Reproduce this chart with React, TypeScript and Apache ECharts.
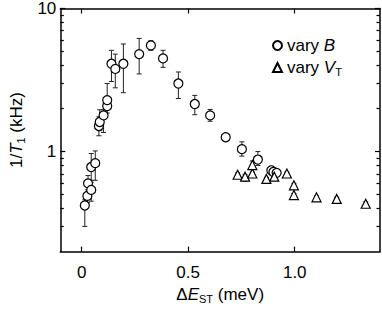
import React, { useEffect, useRef } from 'react';
import * as echarts from 'echarts';

// vary B (circles)
const circleX = [0.015, 0.027, 0.03, 0.045, 0.045, 0.064, 0.081, 0.085, 0.103, 0.12, 0.12, 0.14, 0.158, 0.196, 0.27, 0.325, 0.382, 0.454, 0.531, 0.603, 0.676, 0.752, 0.827, 0.89, 0.9, 0.915];
const circleY = [0.42, 0.49, 0.6, 0.54, 0.78, 0.83, 1.51, 1.61, 1.79, 2.08, 2.29, 4.11, 3.78, 4.11, 4.8, 5.52, 4.48, 2.99, 2.15, 1.79, 1.26, 1.04, 0.88, 0.74, 0.72, 0.71];
const circleLo = [0.3, 0.44, 0.51, 0.45, 0.63, 0.63, 1.29, 1.4, 1.36, 1.86, 2.0, 3.09, 2.79, 2.58, 3.49, 5.1, 3.88, 2.35, 1.81, 1.63, 1.2, 0.93, 0.8, 0.7, 0.68, 0.67];
const circleHi = [0.46, 0.54, 0.68, 0.61, 0.97, 1.01, 1.75, 1.96, 1.96, 2.4, 2.99, 5.1, 4.8, 5.65, 6.18, 5.95, 5.1, 3.6, 2.47, 1.97, 1.32, 1.17, 1.0, 0.79, 0.76, 0.75];

// vary V_T (triangles)
const triX = [0.732, 0.767, 0.801, 0.801, 0.867, 0.904, 0.963, 0.996, 0.996, 1.102, 1.197, 1.333];
const triY = [0.689, 0.668, 0.703, 0.805, 0.644, 0.668, 0.703, 0.581, 0.497, 0.479, 0.467, 0.432];
const triLo = [0.65, 0.62, 0.67, 0.76, 0.61, 0.63, 0.67, 0.55, 0.47, 0.455, 0.445, 0.41];
const triHi = [0.71, 0.69, 0.72, 0.86, 0.66, 0.69, 0.72, 0.6, 0.51, 0.49, 0.48, 0.445];

const xTicks = [0, 0.5, 1.0];
const yMajorTicks = [1, 10];
const yMinorTicks = [0.3, 0.4, 0.5, 0.6, 0.7, 0.8, 0.9, 2, 3, 4, 5, 6, 7, 8, 9];

const FONT = '"Liberation Sans", Arial, sans-serif';
const BLACK = '#000';

const richStyles = {
  n: { fontSize: 17, fontFamily: FONT, color: BLACK },
  i: { fontSize: 17, fontFamily: FONT, color: BLACK, fontStyle: 'italic' },
  s: { fontSize: 11, fontFamily: FONT, color: BLACK, padding: [9, 0, 0, 0] },
};

export default function App() {
  const ref = useRef<HTMLDivElement>(null);
  useEffect(() => {
    if (!ref.current) return;
    const chart = echarts.init(ref.current, null, { renderer: 'svg' });

    const errRender = (params: any, api: any) => {
      const x = api.value(0);
      const lo = api.value(1);
      const hi = api.value(2);
      const pLo = api.coord([x, lo]);
      const pHi = api.coord([x, hi]);
      const w = 2.5;
      const st = { stroke: '#222', lineWidth: 1 };
      return {
        type: 'group',
        children: [
          { type: 'line', shape: { x1: pLo[0], y1: pLo[1], x2: pHi[0], y2: pHi[1] }, style: st },
          { type: 'line', shape: { x1: pLo[0] - w, y1: pLo[1], x2: pLo[0] + w, y2: pLo[1] }, style: st },
          { type: 'line', shape: { x1: pHi[0] - w, y1: pHi[1], x2: pHi[0] + w, y2: pHi[1] }, style: st },
        ],
      };
    };

    const axisLine = { show: true, onZero: false, lineStyle: { color: BLACK, width: 1.5 } };
    const tickStyle = { color: BLACK, width: 1.2 };

    const yBase = { type: 'log', logBase: 10, min: 0.2, max: 10, splitLine: { show: false }, minorTick: { show: false } };

    const option: any = {
      animation: false,
      backgroundColor: '#fff',
      grid: { left: 39, right: 2, top: 5, bottom: 52, containLabel: false },
      legend: {
        data: ['B', 'VT'],
        orient: 'vertical',
        left: 267,
        top: 32,
        itemWidth: 9,
        itemHeight: 9,
        itemGap: 5,
        formatter: (name: string) => (name === 'B' ? '{n|vary }{i|B}' : '{n|vary }{i|V}{s|T}'),
        textStyle: { color: BLACK, fontSize: 17, fontFamily: FONT, rich: richStyles },
      },
      xAxis: [
        {
          type: 'value', min: -0.1, max: 1.4, position: 'bottom',
          axisLine,
          axisTick: { show: true, inside: true, length: 5, customValues: xTicks, lineStyle: tickStyle },
          axisLabel: { customValues: xTicks, formatter: (v: number) => (v === 0 ? '0' : v.toFixed(1)), color: BLACK, fontSize: 17, fontFamily: FONT, margin: 12 },
          splitLine: { show: false },
          name: '{n|Δ}{i|E}{s|ST}{n| (meV)}',
          nameLocation: 'middle',
          nameGap: 27,
          nameTextStyle: { color: BLACK, fontSize: 17, fontFamily: FONT, rich: richStyles },
        },
        {
          type: 'value', min: -0.1, max: 1.4, position: 'top',
          axisLine,
          axisTick: { show: true, inside: true, length: 5, customValues: xTicks, lineStyle: tickStyle },
          axisLabel: { show: false },
          splitLine: { show: false },
        },
      ],
      yAxis: [
        {
          ...yBase, position: 'left',
          axisLine,
          axisTick: { show: true, inside: true, length: 5, customValues: yMajorTicks, lineStyle: tickStyle },
          axisLabel: { customValues: yMajorTicks, formatter: (v: number) => String(Math.round(v)), color: BLACK, fontSize: 17, fontFamily: FONT, margin: 4, padding: [5, 0, 0, 0] },
          name: '{n|1/}{i|T}{s|1}{n| (kHz)}',
          nameLocation: 'middle',
          nameGap: 21,
          nameRotate: 90,
          nameTextStyle: { color: BLACK, fontSize: 17, fontFamily: FONT, rich: richStyles },
        },
        {
          ...yBase, position: 'right',
          axisLine,
          axisTick: { show: true, inside: true, length: 5, customValues: yMajorTicks, lineStyle: tickStyle },
          axisLabel: { show: false },
        },
        {
          ...yBase, position: 'left',
          axisLine: { show: false, onZero: false },
          axisTick: { show: true, inside: true, length: 3.5, customValues: yMinorTicks, lineStyle: tickStyle },
          axisLabel: { show: false },
        },
        {
          ...yBase, position: 'right',
          axisLine: { show: false, onZero: false },
          axisTick: { show: true, inside: true, length: 3.5, customValues: yMinorTicks, lineStyle: tickStyle },
          axisLabel: { show: false },
        },
      ],
      series: [
        {
          name: 'errB', type: 'custom', renderItem: errRender, xAxisIndex: 0, yAxisIndex: 0,
          data: circleX.map((x, i) => [x, circleLo[i], circleHi[i]]),
          encode: { x: 0, y: [1, 2] }, z: 1, silent: true,
        },
        {
          name: 'errVT', type: 'custom', renderItem: errRender, xAxisIndex: 0, yAxisIndex: 0,
          data: triX.map((x, i) => [x, triLo[i], triHi[i]]),
          encode: { x: 0, y: [1, 2] }, z: 1, silent: true,
        },
        {
          name: 'B', type: 'scatter', xAxisIndex: 0, yAxisIndex: 0,
          symbol: 'circle', symbolSize: 9,
          itemStyle: { color: '#fff', borderColor: BLACK, borderWidth: 1.2, opacity: 1 },
          data: circleX.map((x, i) => [x, circleY[i]]), z: 3,
        },
        {
          name: 'VT', type: 'scatter', xAxisIndex: 0, yAxisIndex: 0,
          symbol: 'triangle', symbolSize: 9,
          itemStyle: { color: '#fff', borderColor: BLACK, borderWidth: 1.2, opacity: 1 },
          data: triX.map((x, i) => [x, triY[i]]), z: 3,
        },
      ],
    };
    chart.setOption(option);
    return () => chart.dispose();
  }, []);
  return <div ref={ref} style={{ width: 382, height: 309, position: 'absolute', left: 0, top: 0 }} />;
}
